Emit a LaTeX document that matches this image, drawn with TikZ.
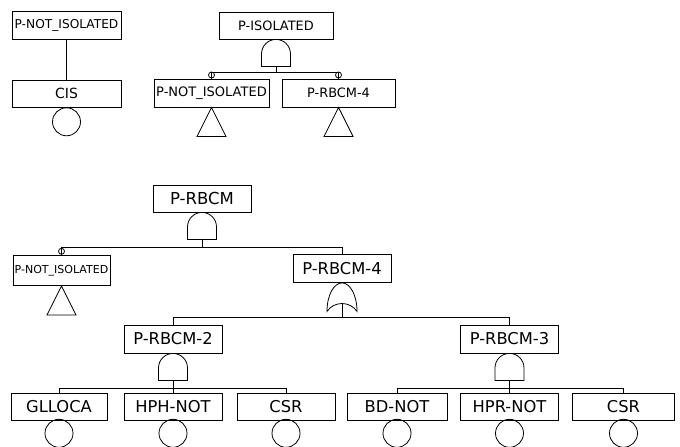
\documentclass[tikz,border=0pt]{standalone}
\usepackage{fontspec}
\setmainfont{DejaVu Sans}
\begin{document}
\begin{tikzpicture}[x=1pt,y=-1pt,
  line width=0.8pt,
  evbox/.style={draw, inner sep=0pt, minimum height=27pt},
  ftop/.style={font=\fontsize{12.9}{14}\selectfont},
  fbot/.style={font=\fontsize{16.3}{18}\selectfont},
  basic/.style={draw, circle, inner sep=0pt, minimum size=28pt},
  andg/.pic={
    \draw (-14.5,27) -- (-14.5,14.5) .. controls (-14.5,6.49) and (-8.01,0) .. (0,0)
          .. controls (8.01,0) and (14.5,6.49) .. (14.5,14.5) -- (14.5,27) -- cycle;
    \coordinate (-out) at (0,27);
  },
  org/.pic={
    \draw (-15,28.5) .. controls (-15,12) and (-8,0) .. (0,0)
          .. controls (8,0) and (15,12) .. (15,28.5)
          .. controls (8,18) and (-8,18) .. (-15,28.5) -- cycle;
    \coordinate (-out) at (0,20.8);
  },
  xfer/.pic={
    \draw (0,0) -- (-14.5,29) -- (14.5,29) -- cycle;
  },
  marker/.style={draw, circle, inner sep=0pt, minimum size=6pt}
]
\path[use as bounding box, fill=white] (0,0) rectangle (680,447);
\clip (0,0) rectangle (680,447);

% ---------- top-left tree ----------
\node[evbox, minimum width=109pt, minimum height=28pt, font=\fontsize{12.2}{14}\selectfont] (pni1) at (66.5,25) {P-NOT\_ISOLATED};
\node[evbox, minimum width=109pt, font=\fontsize{14}{16}\selectfont] (cis) at (66.5,93.5) {CIS};
\node[basic, anchor=north] (ccis) at (cis.south) {};
\draw (pni1.south) -- (cis.north);

% ---------- top-middle tree ----------
\node[evbox, minimum width=114pt, ftop] (pis) at (276,25.5) {P-ISOLATED};
\pic (g1) at (pis.south) {andg};
\node[evbox, minimum width=115pt, minimum height=28pt, font=\fontsize{13}{15}\selectfont] (pni2) at (211.5,93) {P-NOT\_ISOLATED};
\node[evbox, minimum width=113pt, minimum height=28pt, ftop] (prbt) at (338.5,93) {P-RBCM-4};
\draw (g1-out) -- ++(0,6) coordinate (b1);
\draw (b1) -| (pni2.north);
\draw (b1) -| (prbt.north);
\node[marker] (m1) at ([yshift=3.6pt]pni2.north) {};
\node[marker] (m2) at ([yshift=3.6pt]prbt.north) {};
\pic (t1) at (pni2.south) {xfer};
\pic (t2) at (prbt.south) {xfer};

% ---------- main tree ----------
\node[evbox, minimum width=98pt, font=\fontsize{16.5}{18}\selectfont] (prbcm) at (202,198.5) {P-RBCM};
\pic (g2) at (prbcm.south) {andg};
\node[evbox, minimum width=97pt, minimum height=30pt, font=\fontsize{11}{13}\selectfont] (pni3) at (61.5,270.5) {P-NOT\_ISOLATED};
\node[evbox, minimum width=98pt, minimum height=28pt, fbot] (prb4) at (342,268.5) {P-RBCM-4};
\draw (g2-out) -- ++(0,8) coordinate (b2);
\draw (b2) -| (pni3.north);
\draw (b2) -| (prb4.north);
\node[marker] (m3) at ([yshift=3.8pt]pni3.north) {};
\pic (t3) at (pni3.south) {xfer};

\pic (g3) at (prb4.south) {org};
\node[evbox, minimum width=98pt, minimum height=28pt, fbot] (prb2) at (173,339) {P-RBCM-2};
\node[evbox, minimum width=98pt, minimum height=28pt, fbot] (prb3) at (509.5,339) {P-RBCM-3};
\draw (g3-out) -- (342,317) coordinate (b3);
\draw (b3) -| (prb2.north);
\draw (b3) -| (prb3.north);

\pic (g4) at (prb2.south) {andg};
\pic (g5) at (prb3.south) {andg};

\node[evbox, minimum width=96pt, fbot] (gll) at (59,406.5) {GLLOCA};
\node[evbox, minimum width=98pt, fbot] (hph) at (173,406.5) {HPH-NOT};
\node[evbox, minimum width=98pt, fbot] (csr1) at (286,406.5) {CSR};
\node[evbox, minimum width=100pt, fbot] (bd) at (397,406.5) {BD-NOT};
\node[evbox, minimum width=98pt, fbot] (hpr) at (509.5,406.5) {HPR-NOT};
\node[evbox, minimum width=102pt, fbot] (csr2) at (623.5,406.5) {CSR};

\draw (g4-out) -- ++(0,8) coordinate (b4);
\draw (b4) -| (gll.north);
\draw (b4) -- (hph.north);
\draw (b4) -| (csr1.north);
\draw (g5-out) -- ++(0,8) coordinate (b5);
\draw (b5) -| (bd.north);
\draw (b5) -- (hpr.north);
\draw (b5) -| (csr2.north);

\foreach \n in {gll,hph,csr1,bd,hpr,csr2}{
  \node[basic, anchor=north] (c\n) at ([yshift=1.5pt]\n.south) {};
}
\end{tikzpicture}
\end{document}
